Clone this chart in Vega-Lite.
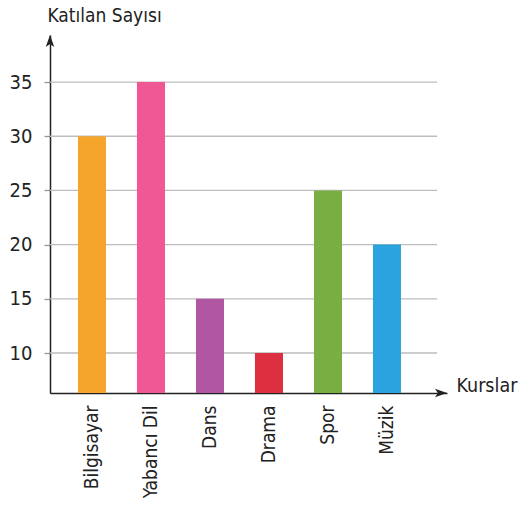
{
  "$schema": "https://vega.github.io/schema/vega-lite/v6.json",
  "width": 397,
  "height": 358,
  "padding": {"left": 9, "top": 6, "right": 3, "bottom": 4},
  "background": "white",
  "config": {"view": {"stroke": null}, "font": "DejaVu Sans Condensed, Liberation Sans Narrow, Roboto"},
  "layer": [
    {
      "data": {"values": [{"v": 10}, {"v": 15}, {"v": 20}, {"v": 25}, {"v": 30}, {"v": 35}]},
      "mark": {"type": "rule", "color": "#bdbdbd", "strokeWidth": 1.3},
      "encoding": {
        "y": {
          "field": "v", "type": "quantitative",
          "scale": {"domain": [6.31, 39.34], "nice": false, "zero": false},
          "axis": {
            "values": [10, 15, 20, 25, 30, 35], "grid": false,
            "title": "Katılan Sayısı", "titleAngle": 0, "titleAlign": "left", "titleBaseline": "middle",
            "titleX": -3, "titleY": -20, "titleFontSize": 19, "titleFontWeight": "normal", "titleColor": "#222",
            "labelFontSize": 20, "labelColor": "#222", "labelPadding": 12,
            "tickColor": "#999", "tickSize": 6, "tickWidth": 1.3,
            "domainColor": "#222", "domainWidth": 1.5
          }
        },
        "x": {"datum": 0, "type": "quantitative", "scale": {"domain": [0, 1], "nice": false, "zero": false}, "axis": null},
        "x2": {"datum": 0.975}
      }
    },
    {
      "data": {"values": [
        {"kurs": "Bilgisayar", "sayi": 30},
        {"kurs": "Yabancı Dil", "sayi": 35},
        {"kurs": "Dans", "sayi": 15},
        {"kurs": "Drama", "sayi": 10},
        {"kurs": "Spor", "sayi": 25},
        {"kurs": "Müzik", "sayi": 20}
      ]},
      "mark": {"type": "bar"},
      "encoding": {
        "x": {
          "field": "kurs", "type": "nominal", "sort": null,
          "scale": {"paddingInner": 0.525, "paddingOuter": 0.627, "align": 0.378},
          "axis": {
            "title": "Kurslar", "titleAngle": 0, "titleAlign": "left", "titleBaseline": "middle",
            "titleX": 406, "titleY": -8, "titleFontSize": 19.5, "titleFontWeight": "normal", "titleColor": "#222",
            "labelAngle": 270, "labelFontSize": 19, "labelColor": "#222", "labelPadding": 12,
            "ticks": false, "domainColor": "#222", "domainWidth": 1.5
          }
        },
        "y": {"field": "sayi", "type": "quantitative"},
        "y2": {"datum": 6.31},
        "color": {
          "field": "kurs", "type": "nominal", "sort": null, "legend": null,
          "scale": {
            "domain": ["Bilgisayar", "Yabancı Dil", "Dans", "Drama", "Spor", "Müzik"],
            "range": ["#F5A52C", "#EF5894", "#B056A2", "#DC3040", "#78AE42", "#2BA3DE"]
          }
        }
      }
    },
    {
      "data": {"values": [
        {"ax": 0, "ay": 39.34, "dir": "up"}
      ]},
      "mark": {"type": "point", "filled": true, "color": "#222", "opacity": 1, "size": 130, "shape": "M0,0L0.75,2.1L0,1.6L-0.75,2.1Z"},
      "encoding": {
        "x": {"field": "ax", "type": "quantitative", "scale": {"domain": [0, 1], "nice": false, "zero": false}, "axis": null},
        "y": {"field": "ay", "type": "quantitative"}
      }
    },
    {
      "data": {"values": [
        {"ax": 1, "ay": 6.31, "dir": "right"}
      ]},
      "mark": {"type": "point", "filled": true, "color": "#222", "opacity": 1, "size": 130, "shape": "M0,0L-2.1,-0.75L-1.6,0L-2.1,0.75Z"},
      "encoding": {
        "x": {"field": "ax", "type": "quantitative", "scale": {"domain": [0, 1], "nice": false, "zero": false}, "axis": null},
        "y": {"field": "ay", "type": "quantitative"}
      }
    }
  ],
  "resolve": {"scale": {"x": "independent"}}
}
